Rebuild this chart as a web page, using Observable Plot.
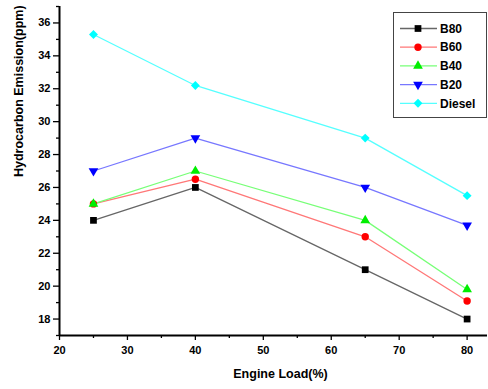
<!DOCTYPE html>
<html><head><meta charset="utf-8">
<script src="https://cdn.jsdelivr.net/npm/d3@7"></script>
<script src="https://cdn.jsdelivr.net/npm/@observablehq/plot@0.6"></script>
<style>
body{margin:0;background:#fff;}
#c{position:relative;width:488px;height:389px;font-family:"Liberation Sans",Arial,sans-serif;background:#fff;}
#c svg{display:block;}
#c svg text{font-weight:bold;}
#legend{position:absolute;left:0;top:0;pointer-events:none;}
</style>
</head><body><div id="c"></div>
<script>
// ---- data ----
const loads = [25, 40, 65, 80];
const seriesNames = ["B80", "B60", "B40", "B20", "Diesel"];
const b80 = [24, 26, 21, 18];
const b60 = [25, 26.5, 23, 19.1];
const b40 = [25, 27, 24, 19.8];
const b20 = [27, 29, 26, 23.7];
const diesel = [35.3, 32.2, 29, 25.5];
const xTicks = [20, 30, 40, 50, 60, 70, 80];
const xMinorTicks = [25, 35, 45, 55, 65, 75];
const yTicks = [18, 20, 22, 24, 26, 28, 30, 32, 34, 36];
const yMinorTicks = [17, 19, 21, 23, 25, 27, 29, 31, 33, 35, 37];
const xTitle = "Engine Load(%)";
const yTitle = "Hydrocarbon Emission(ppm)";

// ---- styles ----
const triangleDown = {
  draw(context, size) {
    const y = Math.sqrt(size / (Math.sqrt(3) * 3));
    context.moveTo(0, y * 2);
    context.lineTo(-Math.sqrt(3) * y, -y);
    context.lineTo(Math.sqrt(3) * y, -y);
    context.closePath();
  }
};
const markerColors = ["#000000", "#ff0000", "#00ee00", "#0000ff", "#00ffff"];
const lineColors = ["#666666", "#ff7777", "#77ff77", "#7777ff", "#55ffff"];
const symbols = ["square", "circle", "triangle", triangleDown, "diamond2"];
const radii = [3.8, 3.7, 3.6, 3.6, 4.0];

const valuesBySeries = [b80, b60, b40, b20, diesel];
const table = seriesNames.flatMap((s, i) =>
  loads.map((l, j) => ({series: s, load: l, hc: valuesBySeries[i][j]})));

const font = "'Liberation Sans', Arial, sans-serif";

const chart = Plot.plot({
  width: 488,
  height: 389,
  marginLeft: 59,
  marginRight: 1,
  marginTop: 6,
  marginBottom: 54,
  style: {fontFamily: font, background: "#fff", color: "#000"},
  x: {domain: [20, 83]},
  y: {domain: [17, 37]},
  marks: [
    Plot.axisY({ticks: yMinorTicks, tickSize: 3, tickFormat: () => "", label: null, strokeWidth: 1.3}),
    Plot.axisY({ticks: yTicks, tickSize: 6, tickPadding: 3, label: null, fontSize: 11, fontWeight: "bold", strokeWidth: 1.3}),
    Plot.axisX({ticks: xMinorTicks, tickSize: 3, tickFormat: () => "", label: null, strokeWidth: 1.3}),
    Plot.axisX({ticks: xTicks, tickSize: 5, tickPadding: 6, label: null, fontSize: 11, fontWeight: "bold", strokeWidth: 1.3}),
    Plot.ruleX([20], {strokeWidth: 2}),
    Plot.ruleY([17], {strokeWidth: 2}),
    ...seriesNames.map((s, i) =>
      Plot.line(table.filter(d => d.series === s), {x: "load", y: "hc", stroke: lineColors[i], strokeWidth: 1.3})),
    ...seriesNames.map((s, i) =>
      Plot.dot(table.filter(d => d.series === s), {x: "load", y: "hc", fill: markerColors[i], stroke: "none", symbol: symbols[i], r: radii[i]})),
    Plot.text([xTitle], {frameAnchor: "bottom", dy: 42, dx: 7, fontSize: 12.5, fontWeight: "bold"}),
    Plot.text([yTitle], {frameAnchor: "left", rotate: -90, dx: -41, dy: 6, fontSize: 12.5, fontWeight: "bold"})
  ]
});
const container = document.getElementById("c");
container.appendChild(chart);

// ---- legend (overlay, inside the plot frame at top right) ----
const lg = d3.select(container).append("svg")
  .attr("id", "legend").attr("width", 488).attr("height", 389);
const box = {x: 393.5, y: 12.5, w: 93, h: 105};
lg.append("rect").attr("x", box.x).attr("y", box.y).attr("width", box.w).attr("height", box.h)
  .attr("fill", "#fff").attr("stroke", "#444").attr("stroke-width", 1);
seriesNames.forEach((s, i) => {
  const cy = 28.5 + i * 18.7;
  const g = lg.append("g");
  g.append("line").attr("x1", 400).attr("x2", 437).attr("y1", cy).attr("y2", cy)
    .attr("stroke", lineColors[i]).attr("stroke-width", 1.3);
  const t = typeof symbols[i] === "string"
    ? {square: d3.symbolSquare, circle: d3.symbolCircle, triangle: d3.symbolTriangle, diamond2: d3.symbolDiamond2}[symbols[i]]
    : symbols[i];
  g.append("path").attr("transform", `translate(418,${cy})`)
    .attr("d", d3.symbol(t, Math.PI * radii[i] * radii[i])())
    .attr("fill", markerColors[i]);
  g.append("text").attr("x", 440).attr("y", cy).attr("dy", "0.35em")
    .attr("font-family", font).attr("font-size", 12).attr("font-weight", "bold").text(s);
});
</script>
</body></html>
